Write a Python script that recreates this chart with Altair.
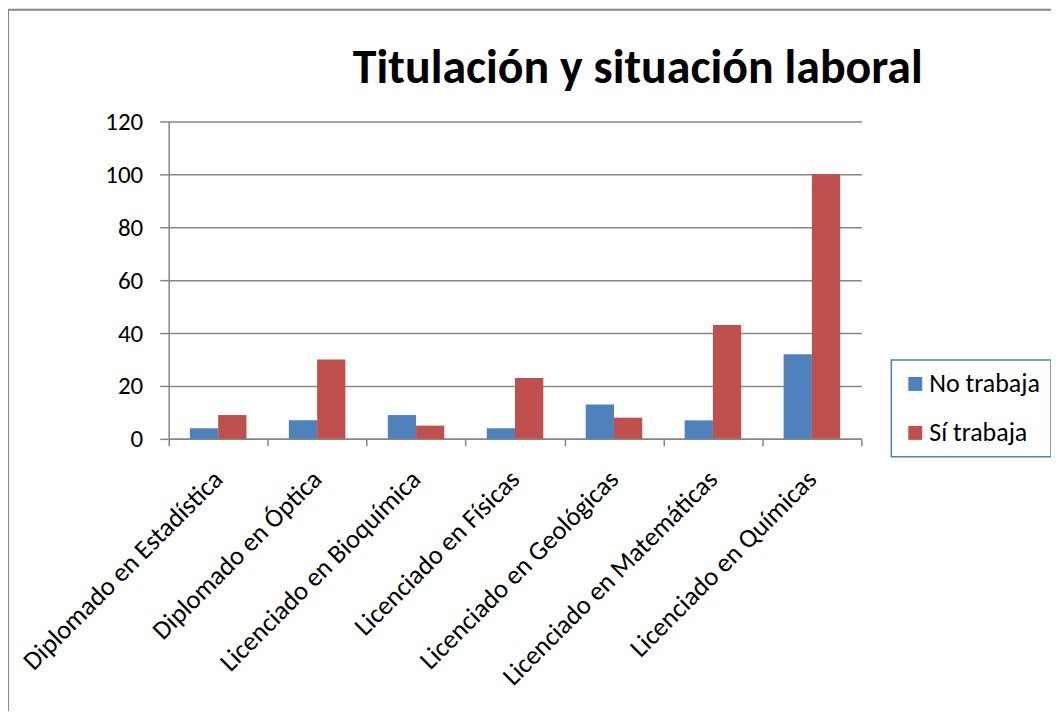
import altair as alt
import pandas as pd

categorias = [
    "Diplomado en Estadística",
    "Diplomado en Óptica",
    "Licenciado en Bioquímica",
    "Licenciado en Físicas",
    "Licenciado en Geológicas",
    "Licenciado en Matemáticas",
    "Licenciado en Químicas",
]
series = ["No trabaja", "Sí trabaja"]
no_trabaja = [4, 7, 9, 4, 13, 7, 32]
si_trabaja = [9, 30, 5, 23, 8, 43, 100]
y_ticks = [0, 20, 40, 60, 80, 100, 120]
colores = ["#4F81BD", "#C0504D"]
titulo = "Titulación y situación laboral"

rows = []
for c, a, b in zip(categorias, no_trabaja, si_trabaja):
    rows.append({"Titulación": c, "Situación": series[0], "Valor": a})
    rows.append({"Titulación": c, "Situación": series[1], "Valor": b})
df = pd.DataFrame(rows)

FONT = "Carlito, Calibri, Lato, sans-serif"
GRAY = "#868686"
W, H = 694, 318

bars = alt.Chart(df).mark_bar().encode(
    x=alt.X(
        "Titulación:N",
        sort=categorias,
        scale=alt.Scale(paddingInner=0, paddingOuter=0),
        axis=alt.Axis(
            title=None,
            labelAngle=-45,
            labelAlign="right",
            labelBaseline="middle",
            labelFontSize=26.5,
            labelColor="black",
            labelPadding=29,
            tickBand="extent",
            tickSize=7,
            tickColor=GRAY,
            tickWidth=1.5,
            domainColor=GRAY,
            domainWidth=1.5,
            grid=False,
            labelLimit=400,
        ),
    ),
    xOffset=alt.XOffset(
        "Situación:N",
        sort=series,
        scale=alt.Scale(paddingInner=0, paddingOuter=0.75),
    ),
    y=alt.Y(
        "Valor:Q",
        scale=alt.Scale(domain=[0, 120], nice=False),
        axis=alt.Axis(
            title=None,
            values=y_ticks,
            labelFontSize=25,
            labelColor="black",
            labelPadding=17,
            tickSize=9,
            tickColor=GRAY,
            tickWidth=1.5,
            domainColor=GRAY,
            domainWidth=1.5,
            gridColor=GRAY,
            gridWidth=1.5,
        ),
    ),
    color=alt.Color(
        "Situación:N",
        sort=series,
        scale=alt.Scale(domain=series, range=colores),
        legend=alt.Legend(
            title=None,
            orient="none",
            legendX=724,
            legendY=239,
            strokeColor="#4F81BD",
            padding=11,
            symbolType="square",
            symbolSize=196,
            symbolStrokeWidth=0,
            symbolOpacity=1,
            labelFontSize=26,
            labelColor="black",
            labelOffset=1,
            rowPadding=23,
        ),
    ),
)

frame = alt.Chart(alt.Data(values=[{"a": 1}])).mark_rect(
    fill=None, stroke=GRAY, strokeWidth=2, clip=False
).encode(
    x=alt.value(-161),
    x2=alt.value(W + 400),
    y=alt.value(-112),
    y2=alt.value(H + 400),
)

title_mark = alt.Chart(alt.Data(values=[{"t": titulo}])).mark_text(
    fontSize=48,
    fontWeight="bold",
    font=FONT,
    color="black",
    align="center",
    baseline="alphabetic",
).encode(
    text="t:N",
    x=alt.value(470),
    y=alt.value(-39),
)

chart = alt.layer(frame, bars, title_mark).properties(
    width=W,
    height=H,
    autosize=alt.AutoSizeParams(type="none"),
    padding={"left": 161, "top": 113, "right": 190, "bottom": 272},
).configure(font=FONT).configure_view(stroke=None).configure_legend(strokeWidth=1.5)

chart.save("out.html", embed_options={"renderer": "svg", "actions": False})
